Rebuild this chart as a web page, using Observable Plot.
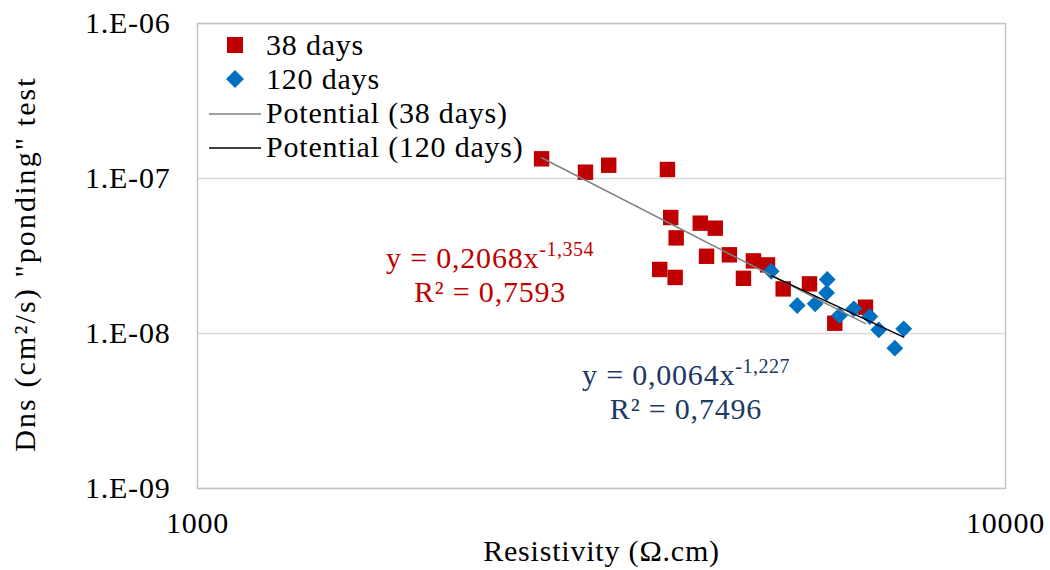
<!DOCTYPE html>
<html><head><meta charset="utf-8">
<script src="https://cdn.jsdelivr.net/npm/d3@7"></script>
<script src="https://cdn.jsdelivr.net/npm/@observablehq/plot@0.6"></script>
<style>
body{margin:0;background:#fff;}
#wrap{position:relative;width:1050px;height:570px;font-family:"Liberation Serif","Times New Roman",serif;color:#000;letter-spacing:0.8px;}
#wrap svg text{letter-spacing:0.8px;}
#wrap svg g[aria-label="y-axis label"] text{letter-spacing:2.1px;}
.ov{position:absolute;white-space:nowrap;font-size:30px;line-height:34px;}
.eq{text-align:center;transform:translateX(-50%);}
.eq sup{font-size:20px;line-height:0;position:relative;top:-1px;vertical-align:super;letter-spacing:0.5px;}
.lg{position:absolute;left:209px;top:28px;font-size:30px;line-height:34px;}
.lg .row{display:flex;align-items:center;height:34px;}
.lg svg{width:52px;height:34px;margin-right:5px;}
</style>
</head><body>
<div id="wrap"></div>
<script>
// 38 days series
const res38 = [2666, 3021, 3228, 3816, 3852, 3912, 4190, 4373, 3733, 3901, 4266, 4553, 4739, 4876, 5075, 5307, 5720, 6148, 6709];
const dns38 = [1.34e-7, 1.098e-7, 1.218e-7, 1.143e-7, 5.60e-8, 4.14e-8, 5.15e-8, 4.78e-8, 2.59e-8, 2.30e-8, 3.15e-8, 3.22e-8, 2.27e-8, 2.94e-8, 2.77e-8, 1.94e-8, 2.09e-8, 1.165e-8, 1.478e-8];
// 120 days series
const res120 = [5129, 6017, 6005, 5524, 5814, 6231, 6491, 6793, 6969, 7482, 7295];
const dns120 = [2.52e-8, 2.23e-8, 1.83e-8, 1.516e-8, 1.554e-8, 1.306e-8, 1.443e-8, 1.287e-8, 1.056e-8, 1.072e-8, 8.04e-9];
// axes
const yTicks = [1e-9, 1e-8, 1e-7, 1e-6];
const yTickLabels = ["1.E-09", "1.E-08", "1.E-07", "1.E-06"];
const xTicks = [1000, 10000];
const xTickLabels = ["1000", "10000"];
const seriesNames = ["38 days", "120 days", "Potential (38 days)", "Potential (120 days)"];
const eq38 = ["y = 0,2068x", "-1,354", "R² = 0,7593"];
const eq120 = ["y = 0,0064x", "-1,227", "R² = 0,7496"];

const d38 = res38.map((r, i) => ({res: r, dns: dns38[i]}));
const d120 = res120.map((r, i) => ({res: r, dns: dns120[i]}));

// power-law trendline (least squares in log-log space), over the data range
function powerFit(xs, ys) {
  const lx = xs.map(Math.log), ly = ys.map(Math.log);
  const mx = d3.mean(lx), my = d3.mean(ly);
  const b = d3.sum(lx, (v, i) => (v - mx) * (ly[i] - my)) / d3.sum(lx, v => (v - mx) ** 2);
  const a = my - b * mx;
  const [x0, x1] = d3.extent(xs);
  return [x0, x1].map(x => ({res: x, dns: Math.exp(a + b * Math.log(x))}));
}
const fit38 = powerFit(res38, dns38);
const fit120 = powerFit(res120, dns120);

const RED = "#C00000", BLUE = "#0070C0";

const chart = Plot.plot({
  width: 1050, height: 570,
  marginLeft: 197, marginRight: 45, marginTop: 23, marginBottom: 82,
  style: {fontFamily: '"Liberation Serif","Times New Roman",serif', fontSize: "30px", color: "#000", background: "#fff"},
  x: {type: "log", domain: [1000, 10000]},
  y: {type: "log", domain: [1e-9, 1e-6]},
  marks: [
    Plot.gridY(yTicks, {stroke: "#d9d9d9", strokeOpacity: 1, strokeWidth: 1.5}),
    Plot.frame({stroke: "#c4c4c4", strokeWidth: 1.5}),
    Plot.axisY(yTicks, {tickSize: 0, tickPadding: 27, tickFormat: d => yTickLabels[yTicks.indexOf(d)],
      label: "Dns (cm²/s) \"ponding\" test", labelAnchor: "center", labelOffset: 184, labelArrow: "none"}),
    Plot.axisX(xTicks, {tickSize: 0, tickPadding: 23, tickFormat: d => xTickLabels[xTicks.indexOf(d)],
      label: "Resistivity (Ω.cm)", labelAnchor: "center", labelOffset: 72, labelArrow: "none"}),
    Plot.dot(d38, {x: "res", y: "dns", symbol: "square", r: 8.7, fill: RED, stroke: null}),
    Plot.dot(d120, {x: "res", y: "dns", symbol: "diamond2", r: 7.6, fill: BLUE, stroke: null}),
    Plot.line(fit38, {x: "res", y: "dns", stroke: "#808080", strokeWidth: 1.5}),
    Plot.line(fit120, {x: "res", y: "dns", stroke: "#000", strokeWidth: 1.5})
  ]
});
const wrap = document.getElementById("wrap");
wrap.appendChild(chart);

// nudge the y-axis title slightly down, as in the reference
const yLab = chart.querySelector('g[aria-label="y-axis label"] text');
if (yLab) {
  const t = yLab.getAttribute("transform") || "";
  yLab.setAttribute("transform", "translate(0,8) " + t);
}

// legend
const lg = document.createElement("div");
lg.className = "lg";
const icons = [
  `<svg viewBox="0 0 52 34"><rect x="18" y="9" width="16" height="16" fill="${RED}"/></svg>`,
  `<svg viewBox="0 0 52 34"><path d="M26 8 L35 17 L26 26 L17 17 Z" fill="${BLUE}"/></svg>`,
  `<svg viewBox="0 0 52 34"><line x1="0" y1="18" x2="52" y2="18" stroke="#808080" stroke-width="1.5"/></svg>`,
  `<svg viewBox="0 0 52 34"><line x1="0" y1="18" x2="52" y2="18" stroke="#000" stroke-width="1.5"/></svg>`
];
lg.innerHTML = seriesNames.map((n, i) => `<div class="row">${icons[i]}<span>${n}</span></div>`).join("");
wrap.appendChild(lg);

// equations, anchored in data space
const sx = chart.scale("x"), sy = chart.scale("y");
function addEq(eq, xv, yv, color) {
  const d = document.createElement("div");
  d.className = "ov eq";
  d.style.color = color;
  d.style.left = sx.apply(xv) + "px";
  d.style.top = (sy.apply(yv) - 27) + "px";
  d.innerHTML = `${eq[0]}<sup>${eq[1]}</sup><br>${eq[2]}`;
  wrap.appendChild(d);
}
addEq(eq38, 2305, 2.63e-8, RED);
addEq(eq120, 4029, 4.62e-9, "#203864");
</script>
</body></html>
